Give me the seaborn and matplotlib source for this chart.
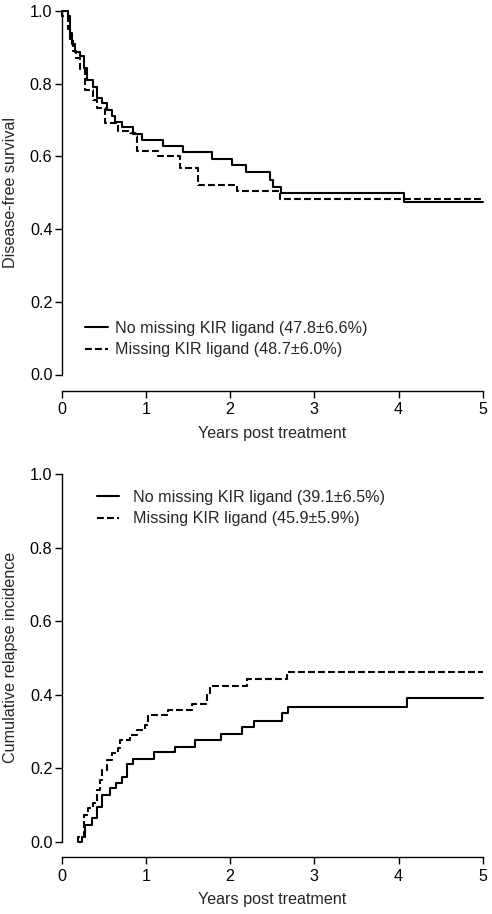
import numpy as np
import pandas as pd
import matplotlib
matplotlib.use("Agg")
import matplotlib.pyplot as plt
import seaborn as sns

# ---------------- data ----------------
lab_no = "No missing KIR ligand"
lab_mis = "Missing KIR ligand"

# Disease-free survival (step functions, steps-post)
dfs_no_t = [0.0, 0.07, 0.10, 0.12, 0.16, 0.22, 0.26, 0.30, 0.375, 0.415, 0.475,
            0.534, 0.594, 0.633, 0.713, 0.85, 0.95, 1.207, 1.444, 1.78, 2.02,
            2.19, 2.47, 2.51, 2.60, 4.06, 5.0]
dfs_no_s = [1.0, 0.985, 0.94, 0.91, 0.887, 0.875, 0.843, 0.81, 0.792, 0.76, 0.747,
            0.728, 0.71, 0.696, 0.681, 0.662, 0.646, 0.628, 0.611, 0.593, 0.575,
            0.557, 0.536, 0.516, 0.498, 0.474, 0.474]

dfs_mis_t = [0.0, 0.005, 0.08, 0.10, 0.13, 0.17, 0.22, 0.277, 0.375, 0.415, 0.514,
             0.672, 0.81, 0.87, 0.89, 1.147, 1.405, 1.62, 2.08, 2.59, 5.0]
dfs_mis_s = [1.0, 0.985, 0.95, 0.92, 0.89, 0.87, 0.84, 0.783, 0.756, 0.733, 0.693,
             0.669, 0.664, 0.655, 0.614, 0.60, 0.568, 0.522, 0.504, 0.484, 0.484]

# Cumulative relapse incidence (steps-post)
cri_no_t = [0.19, 0.24, 0.277, 0.356, 0.423, 0.475, 0.574, 0.645, 0.713, 0.772,
            0.85, 1.096, 1.346, 1.583, 1.888, 2.138, 2.28, 2.613, 2.69, 4.105, 5.0]
cri_no_s = [0.0, 0.014, 0.045, 0.064, 0.094, 0.127, 0.145, 0.16, 0.177, 0.211,
            0.226, 0.243, 0.258, 0.276, 0.293, 0.311, 0.329, 0.349, 0.367, 0.39, 0.39]

cri_mis_t = [0.19, 0.19, 0.265, 0.316, 0.375, 0.415, 0.455, 0.475, 0.534, 0.594,
             0.672, 0.692, 0.81, 0.89, 0.99, 1.03, 1.266, 1.544, 1.72, 1.76,
             2.197, 2.68, 5.0]
cri_mis_s = [0.0, 0.014, 0.073, 0.091, 0.104, 0.141, 0.168, 0.195, 0.222, 0.24,
             0.254, 0.277, 0.29, 0.304, 0.317, 0.345, 0.358, 0.375, 0.404, 0.424,
             0.443, 0.461, 0.461]

dfs_est = {"no": "47.8\u00b16.6%", "mis": "48.7\u00b16.0%"}
cri_est = {"no": "39.1\u00b16.5%", "mis": "45.9\u00b15.9%"}

x_ticks = [0, 1, 2, 3, 4, 5]
y_ticks = [0.0, 0.2, 0.4, 0.6, 0.8, 1.0]

# ---------------- style ----------------
sns.set_style("ticks")
plt.rcParams["font.family"] = ["Liberation Sans", "DejaVu Sans"]
FS = 11.6
W, H = 492, 914
DPI = 100

fig = plt.figure(figsize=(W / DPI, H / DPI), dpi=DPI)


def build(t1, s1, t2, s2, est):
    l1 = f"{lab_no} ({est['no']})"
    l2 = f"{lab_mis} ({est['mis']})"
    d = pd.concat([
        pd.DataFrame({"t": t1, "v": s1, "group": l1, "order": np.arange(len(t1))}),
        pd.DataFrame({"t": t2, "v": s2, "group": l2, "order": np.arange(len(t2))}),
    ], ignore_index=True)
    return d, l1, l2


def style_axes(ax, xoff_px, ylabel, xlabel_y):
    ax.set_xlim(0, 5)
    ax.set_ylim(0, 1)
    ax.set_xticks(x_ticks)
    ax.set_yticks(y_ticks)
    ax.set_xticklabels([str(v) for v in x_ticks])
    ax.set_yticklabels([f"{v:.1f}" for v in y_ticks])
    for s in ["top", "right"]:
        ax.spines[s].set_visible(False)
    ax.spines["left"].set_bounds(0, 1)
    ax.spines["bottom"].set_bounds(0, 5)
    ax.spines["bottom"].set_position(("outward", xoff_px * 72 / DPI))
    ax.spines["left"].set_position(("outward", 0))
    for s in ["left", "bottom"]:
        ax.spines[s].set_linewidth(1.0)
        ax.spines[s].set_color("black")
    ax.tick_params(axis="both", direction="out", length=4.7, width=1.0,
                   colors="black", labelsize=FS)
    ax.tick_params(axis="y", pad=2.0)
    ax.tick_params(axis="x", pad=3.6)
    ax.set_ylabel(ylabel, fontsize=FS)
    ax.set_xlabel("Years post treatment", fontsize=FS)
    ax.yaxis.set_label_coords(-0.104, 0.5)
    ax.xaxis.set_label_coords(0.5, xlabel_y)
    ax.grid(False)


dash = (3.3, 1.5)

# ---------- top panel ----------
ax1 = fig.add_axes([61.7 / W, 1 - 374.5 / H, 421 / W, 363.5 / H])
d1, a1, b1 = build(dfs_no_t, dfs_no_s, dfs_mis_t, dfs_mis_s, dfs_est)
sns.lineplot(data=d1, x="t", y="v", style="group", hue="group",
             palette={a1: "black", b1: "black"},
             dashes={a1: "", b1: dash}, style_order=[a1, b1],
             estimator=None, units="group", sort=False,
             drawstyle="steps-post", linewidth=1.5, ax=ax1, clip_on=False)
style_axes(ax1, 16.2, "Disease-free survival", -0.142)
ax1.legend(loc="upper left", bbox_to_anchor=(0.0553, 0.148), frameon=False,
           fontsize=FS, borderpad=0, borderaxespad=0, handlelength=1.43,
           handletextpad=0.43, labelspacing=0.4)

# ---------- bottom panel ----------
ax2 = fig.add_axes([61.7 / W, 1 - 841.7 / H, 421 / W, 367.7 / H])
d2, a2, b2 = build(cri_no_t, cri_no_s, cri_mis_t, cri_mis_s, cri_est)
sns.lineplot(data=d2, x="t", y="v", style="group", hue="group",
             palette={a2: "black", b2: "black"},
             dashes={a2: "", b2: dash}, style_order=[a2, b2],
             estimator=None, units="group", sort=False,
             drawstyle="steps-post", linewidth=1.5, ax=ax2, clip_on=False)
style_axes(ax2, 15.6, "Cumulative relapse incidence", -0.138)
ax2.legend(loc="upper left", bbox_to_anchor=(0.0838, 0.957), frameon=False,
           fontsize=FS, borderpad=0, borderaxespad=0, handlelength=1.37,
           handletextpad=0.87, labelspacing=0.4)

fig.savefig("out.png", dpi=DPI)
